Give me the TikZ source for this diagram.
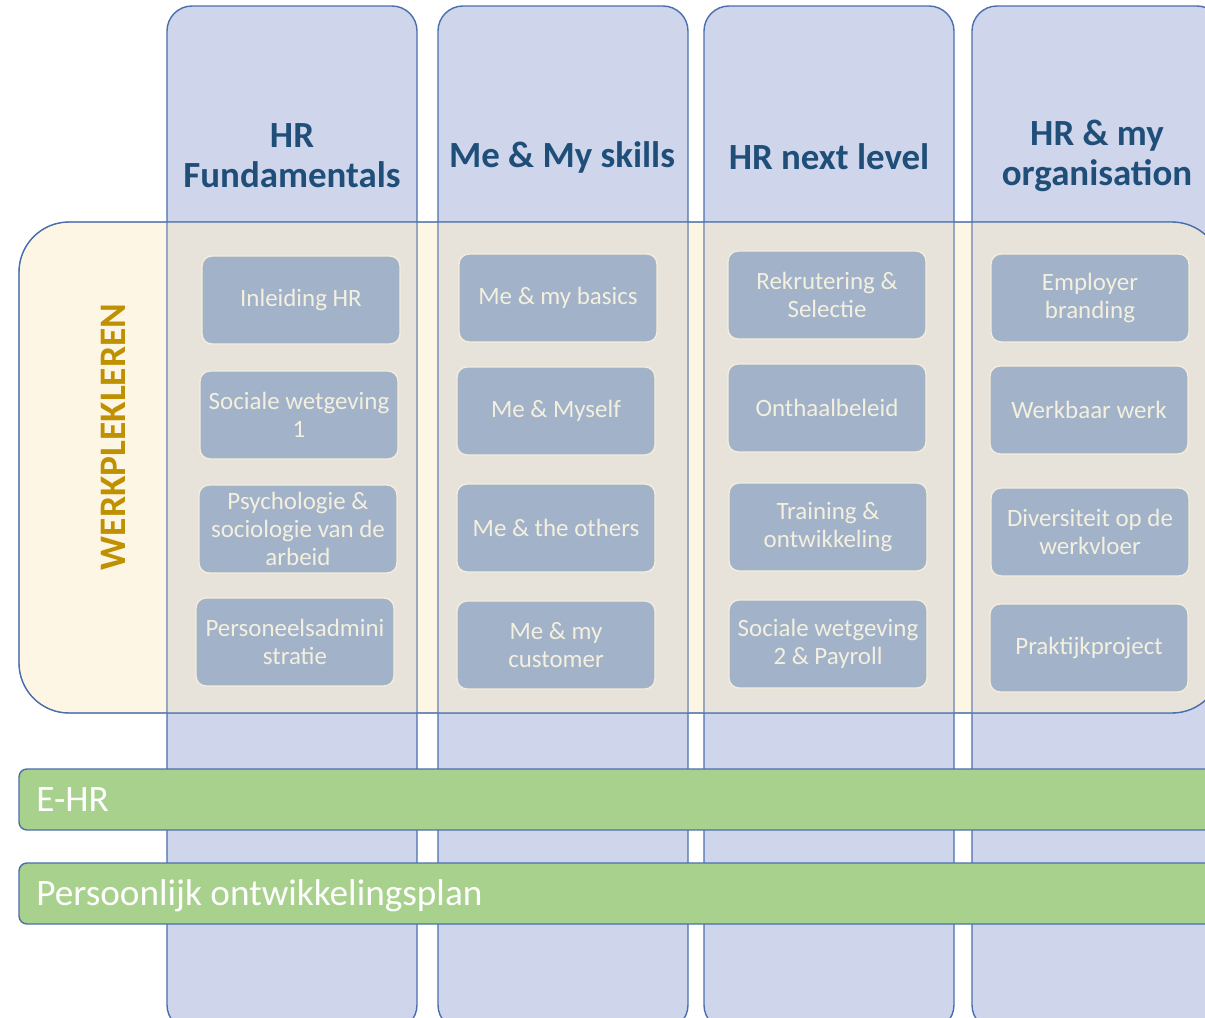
\documentclass[tikz,border=0pt]{standalone}
\usepackage{fontspec}
\setmainfont{Carlito}
\usepackage{tikz}

\definecolor{colfill}{HTML}{CFD5EA}
\definecolor{colline}{HTML}{4A6FAE}
\definecolor{bandfill}{HTML}{FEF6E4}
\definecolor{bandcol}{HTML}{E7E3DB}
\definecolor{bandline}{HTML}{98A6C0}
\definecolor{modfill}{HTML}{A2B2C8}
\definecolor{modline}{HTML}{F3EDDA}
\definecolor{modtext}{HTML}{F4F0DF}
\definecolor{headtext}{HTML}{1F4E79}
\definecolor{goldtext}{HTML}{BF9000}
\definecolor{barfill}{HTML}{A9D18E}

\tikzset{
  module/.style={draw=modline, line width=0.8pt, fill=modfill, rounded corners=0.2cm,
    minimum width=3.96cm, minimum height=1.76cm, align=center, text=modtext,
    font=\fontsize{14.2}{16}\selectfont},
  header/.style={text=headtext, align=center, font=\fontsize{21}{22.8}\selectfont\bfseries},
  bar/.style={draw=colline, fill=barfill, line width=0.8pt, rounded corners=0.16cm},
  bartext/.style={text=white, anchor=base west, inner sep=0pt, font=\fontsize{21.2}{24}\selectfont},
}

\begin{document}
\begin{tikzpicture}[x=0.02cm, y=-0.02cm]
    \useasboundingbox (0,0) rectangle (1205,1018);
    \clip (0,0) rectangle (1205,1018);
    % columns
    \foreach \l/\r in {167/417, 438/688, 704/954, 972/1222}
      \draw[draw=colline, line width=0.8pt, fill=colfill, rounded corners=0.5cm] (\l,6) rectangle (\r,1030);
    % werkplekleren band
    \draw[draw=colline, fill=bandfill, rounded corners=1cm] (19,222) rectangle (1222,713);
    \begin{scope}
      \clip[rounded corners=1cm] (19,222) rectangle (1222,713);
      \foreach \l/\r in {167/417, 438/688, 704/954, 972/1222}
        \draw[draw=bandline, line width=0.6pt, fill=bandcol] (\l,200) rectangle (\r,740);
    \end{scope}
    \draw[colline, line width=0.8pt, rounded corners=1cm] (19,222) rectangle (1222,713);
    \node[rotate=90, text=goldtext, font=\fontsize{21.3}{24}\selectfont\bfseries] (wpl) at (113,437) {WERKPLEKLEREN};
    % headers
    \node[header] (hrf) at (292,156) {HR\\Fundamentals};
    \node[header] (mms) at (562,157) {Me \& My skills};
    \node[header] (hnl) at (829,157) {HR next level};
    \node[header] (hmo) at (1097,156) {HR \& my\\organisation};
    % modules
    \node[module] (inl) at (301,300) {Inleiding HR};
    \node[module] (sw1) at (299,415) {Sociale wetgeving\\1};
    \node[module] (psy) at (298,529) {Psychologie \&\\sociologie van de\\arbeid};
    \node[module] (adm) at (295,642) {Personeelsadmini\\stratie};
    \node[module] (bas) at (558,298) {Me \& my basics};
    \node[module] (mys) at (556,411) {Me \& Myself};
    \node[module] (oth) at (556,528) {Me \& the others};
    \node[module] (cus) at (556,645) {Me \& my\\customer};
    \node[module] (rek) at (827,295) {Rekrutering \&\\Selectie};
    \node[module] (ont) at (827,408) {Onthaalbeleid};
    \node[module] (tra) at (828,527) {Training \&\\ontwikkeling};
    \node[module] (sw2) at (828,644) {Sociale wetgeving\\2 \& Payroll};
    \node[module] (emp) at (1090,298) {Employer\\branding};
    \node[module] (wer) at (1089,410) {Werkbaar werk};
    \node[module] (div) at (1090,532) {Diversiteit op de\\werkvloer};
    \node[module] (pra) at (1089,648) {Praktijkproject};
    % bars
    \draw[bar] (19,769) rectangle (1240,830);
    \node[bartext] (ehr) at (36,811) {E-HR};
    \draw[bar] (19,863) rectangle (1240,924);
    \node[bartext] (pop) at (36,905) {Persoonlijk ontwikkelingsplan};
\end{tikzpicture}
\end{document}
